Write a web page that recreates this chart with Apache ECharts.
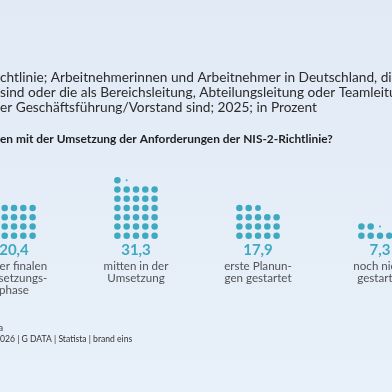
<!DOCTYPE html>
<html><head><meta charset="utf-8">
<script src="https://cdn.jsdelivr.net/npm/echarts@6/dist/echarts.min.js"></script>
<style>html,body{margin:0;padding:0;background:#e5edf8}#c{width:392px;height:392px}</style>
</head><body><div id="c"></div>
<script>
// ---- data ----
const categories = ['in der finalen\nUmsetzungs-\nphase', 'mitten in der\nUmsetzung', 'erste Planun-\ngen gestartet', 'noch nicht\ngestartet'];
const values = [20.4, 31.3, 17.9, 7.3];
const valueLabels = ['20,4', '31,3', '17,9', '7,3'];
const titleLines = [
  'chtlinie; Arbeitnehmerinnen und Arbeitnehmer in Deutschland, die',
  'sind oder die als Bereichsleitung, Abteilungsleitung oder Teamleitung',
  'er Geschäftsführung/Vorstand sind; 2025; in Prozent'
];
const question = 'en mit der Umsetzung der Anforderungen der NIS-2-Richtlinie?';
const sourceFragment = 'Statista';
const sourceLine = '026 | G DATA | Statista | brand eins';

// ---- layout ----
const TEAL = '#1499b3';
const FONT = 'Lato';
const perRow = 5;
const colStep = 9.3 / 122;   // column spacing in group units
const dotSize = 6.5;

const dots = [];
values.forEach((v, i) => {
  const full = Math.floor(v + 1e-9);
  const frac = v - full;
  for (let k = 0; k < full; k++) {
    const row = Math.floor(k / perRow), col = k % perRow;
    dots.push({ value: [i + (col - 2) * colStep, row], symbolSize: dotSize });
  }
  if (frac > 0.001) {
    const row = Math.floor(full / perRow), col = full % perRow;
    dots.push({ value: [i + (col - 2) * colStep, row], symbolSize: dotSize * frac });
  }
});

const labelPts = categories.map((c, i) => ({
  value: [i, -1],
  label: {
    formatter: '{v|' + valueLabels[i] + '}\n' + c.split('\n').map(s => '{c|' + s + '}').join('\n')
  }
}));

const chart = echarts.init(document.getElementById('c'), null, { renderer: 'canvas' });
const titleText = titleLines.map((t, j) => ({
  type: 'text', left: 0, top: 71 + j * 15,
  style: { text: t, font: '13.7px ' + FONT, fill: '#2b2b2b' }
}));
chart.setOption({
  backgroundColor: { type: 'linear', x: 0, y: 0, x2: 0, y2: 1,
    colorStops: [{ offset: 0, color: '#e2eaf5' }, { offset: 1, color: '#e8f0fa' }] },
  animation: false,
  grid: { left: 0, width: 392, top: 171, height: 74 },
  xAxis: { type: 'value', min: -14 / 122, max: 378 / 122, show: false },
  yAxis: { type: 'value', min: -1, max: 7, show: false },
  graphic: titleText.concat([
    { type: 'text', left: 0, top: 133, style: { text: question, font: 'bold 11.9px ' + FONT, fill: '#1e1e1e' } },
    { type: 'text', right: 389, top: 324, style: { text: sourceFragment, font: '8.6px ' + FONT, fill: '#333' } },
    { type: 'text', left: 0, top: 335, style: { text: sourceLine, font: '8.6px ' + FONT, fill: '#333' } }
  ]),
  series: [
    { type: 'scatter', data: dots, symbol: 'circle', itemStyle: { color: TEAL }, silent: true },
    { type: 'scatter', data: labelPts, symbolSize: 0, silent: true,
      label: { show: true, position: 'bottom', distance: 0, offset: [0, -4], align: 'center',
        rich: {
          v: { fontFamily: FONT, fontWeight: 'bold', fontSize: 15, lineHeight: 19, color: TEAL },
          c: { fontFamily: FONT, fontSize: 11.6, lineHeight: 12, color: '#2b2b2b' }
        } } }
  ]
});
</script></body></html>
